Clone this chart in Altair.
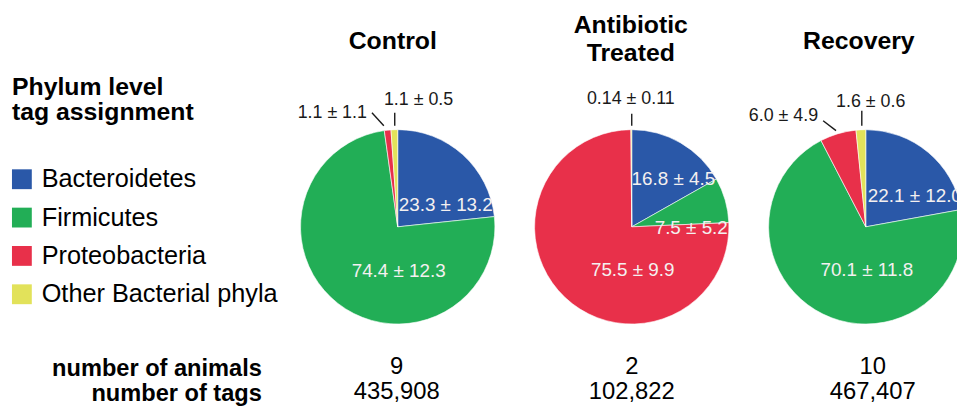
import math
import altair as alt
import pandas as pd

# ---------------- data ----------------
groups = ["Control", "Antibiotic Treated", "Recovery"]
title_lines = ["Control", "Antibiotic\nTreated", "Recovery"]
phyla = ["Bacteroidetes", "Firmicutes", "Proteobacteria", "Other Bacterial phyla"]
phylum_colors = ["#2a58a8", "#22ae56", "#e8304a", "#e2e25a"]

control_mean = ["23.3", "74.4", "1.1", "1.1"]
control_sd = ["13.2", "12.3", "1.1", "0.5"]
antibiotic_mean = ["16.8", "7.5", "75.5", "0.14"]
antibiotic_sd = ["4.5", "5.2", "9.9", "0.11"]
recovery_mean = ["22.1", "70.1", "6.0", "1.6"]
recovery_sd = ["12.0", "11.8", "4.9", "0.6"]

n_animals = [9, 2, 10]
n_tags = [435908, 102822, 467407]
row_labels = ["number of animals", "number of tags"]
legend_title = "Phylum level\ntag assignment"

means = [control_mean, antibiotic_mean, recovery_mean]
sds = [control_sd, antibiotic_sd, recovery_sd]

rows = []
for g, ms, ss in zip(groups, means, sds):
    for i, (p, m, s) in enumerate(zip(phyla, ms, ss)):
        rows.append({"group": g, "phylum": p, "order": i, "mean": float(m),
                     "label": f"{m} \u00b1 {s}"})
df = pd.DataFrame(rows)

groups_df = pd.DataFrame({
    "group": groups,
    "title": title_lines,
    "animals": [str(v) for v in n_animals],
    "tags": [f"{v:,}" for v in n_tags],
})
legend_df = pd.DataFrame({"phylum": phyla})
rowlab_df = pd.DataFrame({"row": row_labels})

FONT = "Liberation Sans"
W, H = 957, 398
CY = 219  # pie centre line (plot coords)
R = 98

xscale = alt.Scale(type="point", domain=groups, range=[393, 865], padding=0)
cscale = alt.Scale(domain=phyla, range=phylum_colors)
X = alt.X("group:N", scale=xscale, axis=None)

# ---------------- pies ----------------
pies = (
    alt.Chart(df)
    .transform_joinaggregate(total="sum(mean)", groupby=["group"])
    .transform_window(cum="sum(mean)", groupby=["group"],
                      sort=[alt.SortField("order")], frame=[None, 0])
    .transform_calculate(t0="(datum.cum - datum.mean) / datum.total",
                         t1="datum.cum / datum.total")
    .mark_arc(outerRadius=R, stroke="white", strokeWidth=0.6)
    .encode(
        x=X,
        y=alt.value(CY),
        theta=alt.Theta("t0:Q", scale=alt.Scale(domain=[0, 1], range=[0, 2 * math.pi])),
        theta2="t1:Q",
        color=alt.Color("phylum:N", scale=cscale, legend=None),
    )
)


def label(g, p, dx, dy, inside, align="center"):
    return (
        alt.Chart(df)
        .transform_filter((alt.datum.group == g) & (alt.datum.phylum == p))
        .mark_text(
            font=FONT,
            fontSize=19 if inside else 18,
            color="#f4f0f0" if inside else "#1a1a1a",
            align=align,
            baseline="middle",
            dx=dx,
            dy=dy,
        )
        .encode(x=X, y=alt.value(CY), text="label:N")
    )


labels = [
    label("Control", "Bacteroidetes", 1, -22, True, "left"),
    label("Control", "Firmicutes", 1, 45, True),
    label("Control", "Proteobacteria", -66, -115, False),
    label("Control", "Other Bacterial phyla", 21, -128, False),
    label("Antibiotic Treated", "Bacteroidetes", 42, -48, True),
    label("Antibiotic Treated", "Firmicutes", 60, 1, True),
    label("Antibiotic Treated", "Proteobacteria", 1, 44, True),
    label("Antibiotic Treated", "Other Bacterial phyla", -1, -129, False),
    label("Recovery", "Bacteroidetes", 2, -31, True, "left"),
    label("Recovery", "Firmicutes", 1, 44, True),
    label("Recovery", "Proteobacteria", -83, -112, False),
    label("Recovery", "Other Bacterial phyla", 5, -126, False),
]

# leader lines (annotation)
leaders = [
    ((367, 104), (379, 117)),
    ((390, 104), (390, 117)),
    ((629, 105), (629, 117)),
    ((822, 112), (835, 122)),
    ((861, 102), (861, 117)),
]
leader_layers = [
    alt.Chart(groups_df).mark_rule(color="#1a1a1a", strokeWidth=1.4).encode(
        x=alt.value(a[0]), y=alt.value(a[1]), x2=alt.value(b[0]), y2=alt.value(b[1])
    ).transform_filter(alt.datum.group == groups[0])
    for a, b in leaders
]


# ---------------- titles & bottom values (per group) ----------------
def group_text(g, field, y, dx, size, weight="normal", baseline="alphabetic"):
    return (
        alt.Chart(groups_df)
        .transform_filter(alt.datum.group == g)
        .mark_text(font=FONT, fontSize=size, fontWeight=weight, color="black",
                   align="center", baseline=baseline, lineBreak="\n", lineHeight=28, dx=dx)
        .encode(x=X, y=alt.value(y), text=f"{field}:N")
    )


titles = [
    group_text("Control", "title", 32, -5, 25, "bold", "middle"),
    group_text("Antibiotic Treated", "title", 16, -1, 25, "bold", "middle"),
    group_text("Recovery", "title", 32, -7, 25, "bold", "middle"),
]
value_dx = {"Control": -1, "Antibiotic Treated": 0, "Recovery": 7}
values = []
for g in groups:
    values.append(group_text(g, "animals", 367, value_dx[g], 24))
    values.append(group_text(g, "tags", 393, value_dx[g], 24))

# ---------------- legend ----------------
leg_title = alt.Chart(pd.DataFrame({"t": [legend_title]})).mark_text(
    font=FONT, fontSize=25, fontWeight="bold", color="black",
    align="left", baseline="alphabetic", lineBreak="\n", lineHeight=25
).encode(x=alt.value(4), y=alt.value(86), text="t:N")

LY = alt.Y("phylum:N", scale=alt.Scale(type="point", domain=phyla, range=[171, 287], padding=0), axis=None)
leg_sq = alt.Chart(legend_df).mark_square(size=400, opacity=1).encode(
    x=alt.value(14), y=LY, color=alt.Color("phylum:N", scale=cscale, legend=None)
)
leg_txt = alt.Chart(legend_df).mark_text(
    font=FONT, fontSize=25.5, color="black", align="left", baseline="middle"
).encode(x=alt.value(34), y=LY, text="phylum:N")

# ---------------- bottom row labels ----------------
row_txt = alt.Chart(rowlab_df).mark_text(
    font=FONT, fontSize=23.8, fontWeight="bold", color="black",
    align="right", baseline="alphabetic"
).encode(
    x=alt.value(256),
    y=alt.Y("row:N", scale=alt.Scale(type="point", domain=row_labels, range=[369, 395], padding=0), axis=None),
    text="row:N",
)

chart = (
    alt.layer(pies, *labels, *leader_layers, *titles, leg_title, leg_sq, leg_txt,
              row_txt, *values)
    .resolve_scale(y="independent")
    .properties(width=W, height=H, padding=0, autosize=alt.AutoSizeParams(type="none"),
                background="white")
    .configure_view(stroke=None)
)

chart.save("out.html", embed_options={"renderer": "svg", "actions": False})
